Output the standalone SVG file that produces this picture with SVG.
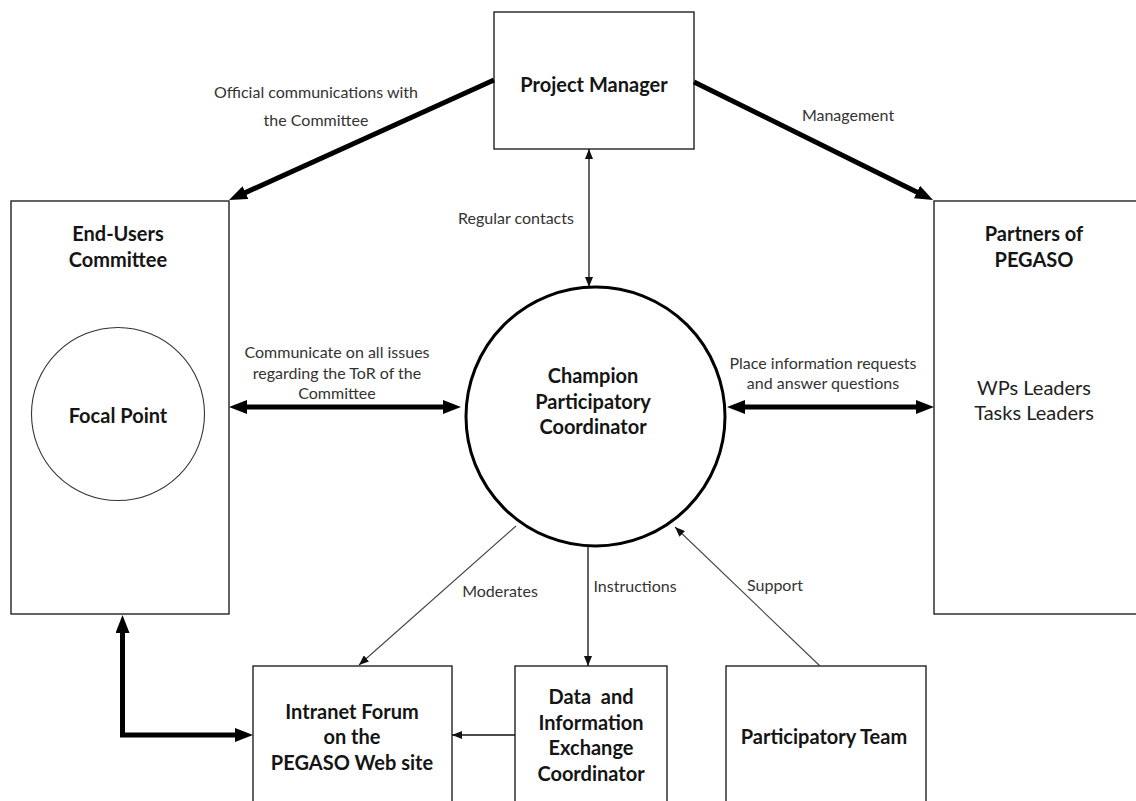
<svg xmlns="http://www.w3.org/2000/svg" width="1136" height="801" viewBox="0 0 1136 801">
<style>
.box{fill:#fff;stroke:#222;stroke-width:1.4}
.nt{font-family:Lato,"Open Sans",sans-serif;font-size:20px;font-weight:bold;fill:#151515;text-anchor:middle}
.nr{font-family:Lato,"Open Sans",sans-serif;font-size:20px;fill:#222;text-anchor:middle}
.lb{font-family:Lato,"Open Sans",sans-serif;font-size:16px;fill:#333;text-anchor:middle}
.thick{fill:none;stroke:#000;stroke-width:5}
.thin{fill:none;stroke:#111;stroke-width:1.3}
.thin2{fill:none;stroke:#444;stroke-width:1.1}
</style>
<defs>
<marker id="bh" markerUnits="userSpaceOnUse" markerWidth="18" markerHeight="14" refX="2" refY="7" orient="auto-start-reverse"><path d="M0,0 L18,7 L0,14 z" fill="#000"/></marker>
<marker id="sh" markerUnits="userSpaceOnUse" markerWidth="10" markerHeight="8" refX="10" refY="4" orient="auto-start-reverse"><path d="M0,0 L10,4 L0,8 z" fill="#111"/></marker>
</defs>
<rect width="1136" height="801" fill="#fff"/>

<g id="project-manager">
<rect class="box" x="494" y="12" width="200" height="137"/>
<text class="nt" x="594" y="92">Project Manager</text>
</g>

<g id="end-users-committee">
<rect class="box" x="11" y="201" width="218" height="413"/>
<text class="nt" x="118" y="241">End-Users</text>
<text class="nt" x="118" y="267">Committee</text>
</g>

<g id="focal-point">
<circle cx="118" cy="414" r="86.5" fill="#fff" stroke="#333" stroke-width="1.1"/>
<text class="nt" x="118" y="423">Focal Point</text>
</g>

<g id="partners">
<rect class="box" x="934" y="201" width="210" height="413"/>
<text class="nt" x="1034" y="241">Partners of</text>
<text class="nt" x="1034" y="267">PEGASO</text>
<text class="nr" x="1034" y="395">WPs Leaders</text>
<text class="nr" x="1034" y="420">Tasks Leaders</text>
</g>

<g id="champion">
<circle cx="595.5" cy="416.5" r="129.5" fill="#fff" stroke="#000" stroke-width="3"/>
<text class="nt" x="593" y="383">Champion</text>
<text class="nt" x="593" y="409">Participatory</text>
<text class="nt" x="593" y="434">Coordinator</text>
</g>

<g id="intranet-forum">
<rect class="box" x="253" y="666" width="199" height="150"/>
<text class="nt" x="352" y="719">Intranet Forum</text>
<text class="nt" x="352" y="744">on the</text>
<text class="nt" x="352" y="770">PEGASO Web site</text>
</g>

<g id="data-coordinator">
<rect class="box" x="515" y="666" width="152" height="150"/>
<text class="nt" x="591" y="704" xml:space="preserve">Data  and</text>
<text class="nt" x="591" y="730">Information</text>
<text class="nt" x="591" y="755">Exchange</text>
<text class="nt" x="591" y="781">Coordinator</text>
</g>

<g id="participatory-team">
<rect class="box" x="726" y="666" width="200" height="150"/>
<text class="nt" x="824" y="744">Participatory Team</text>
</g>

<g id="connectors">
<line class="thick" x1="494" y1="80" x2="243.6" y2="193.4" marker-end="url(#bh)"/>
<line class="thick" x1="694" y1="82" x2="918.7" y2="192.9" marker-end="url(#bh)"/>
<line class="thick" x1="245" y1="407" x2="445" y2="407" marker-start="url(#bh)" marker-end="url(#bh)"/>
<line class="thick" x1="743" y1="407" x2="918" y2="407" marker-start="url(#bh)" marker-end="url(#bh)"/>
<path class="thick" d="M122.5,631 L122.5,735 L237,735" stroke-linejoin="miter" marker-start="url(#bh)" marker-end="url(#bh)"/>
<line class="thin" x1="589" y1="149" x2="589" y2="287" marker-start="url(#sh)" marker-end="url(#sh)"/>
<line class="thin2" x1="516" y1="526" x2="359" y2="665" marker-end="url(#sh)"/>
<line class="thin" x1="588" y1="546" x2="588" y2="666" marker-end="url(#sh)"/>
<line class="thin2" x1="820" y1="666" x2="675" y2="527" marker-end="url(#sh)"/>
<line class="thin" x1="515" y1="735" x2="452" y2="735" marker-end="url(#sh)"/>
</g>

<g id="labels">
<text class="lb" x="316" y="97.5">Official communications with</text>
<text class="lb" x="316" y="125.5">the Committee</text>
<text class="lb" x="848" y="120.5">Management</text>
<text class="lb" x="516" y="223.5">Regular contacts</text>
<text class="lb" x="337" y="357.5">Communicate on all issues</text>
<text class="lb" x="337" y="378.5">regarding the ToR of the</text>
<text class="lb" x="337" y="398.5">Committee</text>
<text class="lb" x="823" y="368.5">Place information requests</text>
<text class="lb" x="823" y="388.5">and answer questions</text>
<text class="lb" x="500" y="596.5">Moderates</text>
<text class="lb" x="635" y="591.5">Instructions</text>
<text class="lb" x="775" y="590.5">Support</text>
</g>
</svg>
